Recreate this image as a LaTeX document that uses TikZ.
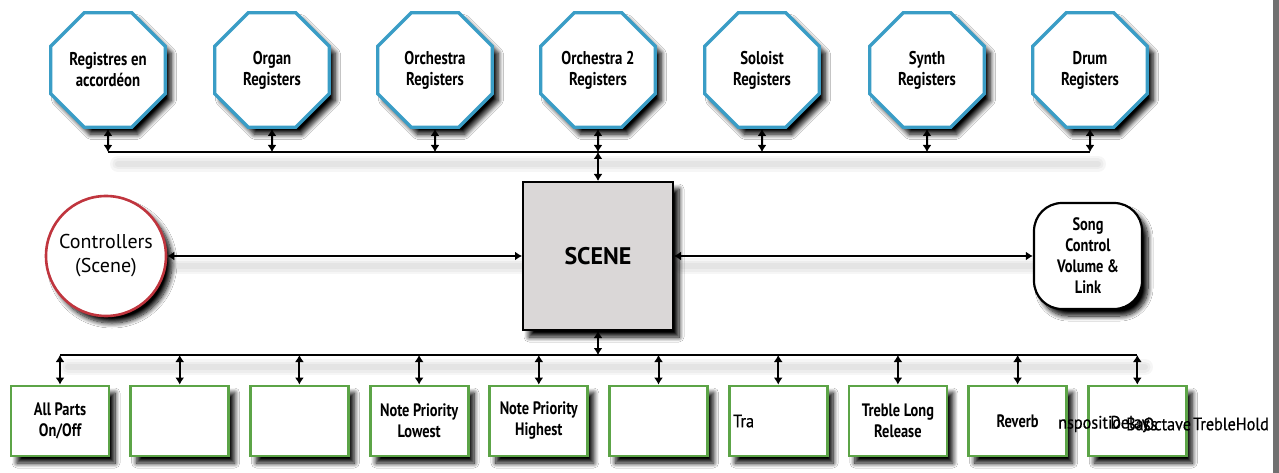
\documentclass[tikz,border=0pt]{standalone}
\usepackage{fontspec}
\setmainfont{PT Sans}
\newfontfamily\condf[FakeStretch=0.8]{PT Sans}
\newfontfamily\condr[FakeStretch=0.9,FakeBold=0.6]{PT Sans}
\usetikzlibrary{shapes.geometric,shadows,shadows.blur,arrows.meta}
\definecolor{cyanb}{HTML}{3A9DC6}
\definecolor{greenb}{HTML}{5CA447}
\definecolor{redb}{HTML}{C0353E}
\definecolor{scenefill}{HTML}{DAD7D7}
\definecolor{barg}{HTML}{707070}
\tikzset{
  x=1pt, y=-1pt,
  myshadow/.style={blur shadow={shadow xshift=6pt, shadow yshift=-7pt, shadow blur steps=10, shadow blur radius=5pt, shadow opacity=100}},
  oct/.style={regular polygon, regular polygon sides=8, minimum size=124pt, inner sep=0pt,
    draw=cyanb, line width=3.4pt, fill=white, myshadow, align=center,
    font=\condf\bfseries\fontsize{18.5}{21}\selectfont},
  gbox/.style={rectangle, minimum width=98pt, minimum height=70pt, inner sep=2pt,
    draw=greenb, line width=2.8pt, fill=white, myshadow, align=center,
    font=\condf\bfseries\fontsize{18}{21}\selectfont},
  scenebox/.style={rectangle, minimum width=150pt, minimum height=148pt, draw=black,
    line width=2pt, fill=scenefill, myshadow, font=\bfseries\fontsize{24}{28}\selectfont},
  ctrlbox/.style={circle, minimum size=120pt, inner sep=0pt, draw=redb, line width=2.6pt,
    fill=white, myshadow, align=center, font=\fontsize{20}{24}\selectfont},
  songbox/.style={rectangle, rounded corners=28pt, minimum width=108pt, minimum height=106pt,
    draw=black, line width=2.2pt, fill=white, myshadow, align=center,
    font=\condf\bfseries\fontsize{18}{21}\selectfont},
  bus/.style={line width=2.6pt, black},
  busshadow/.style={line width=#1, black, opacity=0.035, line cap=round},
  arr/.style={{Latex[length=7pt,width=9pt]}-{Latex[length=7pt,width=9pt]}, line width=2pt},
  garb/.style={inner sep=0pt, font=\condr\fontsize{18}{21}\selectfont},
}
\begin{document}
\begin{tikzpicture}
\useasboundingbox (0,0) rectangle (1279,473);
\fill[white] (0,0) rectangle (1279,473);
\fill[barg] (1273,0) rectangle (1279,473);

% bus shadows (soft)
\foreach \w in {16pt,11pt,6pt}{
  \draw[busshadow=\w] (118,164) -- (1098,164);
  \draw[busshadow=\w] (68,367) -- (1145,367);
  \draw[busshadow=\w] (175,266) -- (525,266);
  \draw[busshadow=\w] (682,266) -- (1036,266);
}

% top octagons
\node[oct] (o1) at (108,70) {Registres en\\accordéon};
\node[oct] (o2) at (272,70) {Organ\\Registers};
\node[oct] (o3) at (435,70) {Orchestra\\Registers};
\node[oct] (o4) at (598,70) {Orchestra 2\\Registers};
\node[oct] (o5) at (762,70) {Soloist\\Registers};
\node[oct] (o6) at (927,70) {Synth\\Registers};
\node[oct] (o7) at (1090,70) {Drum\\Registers};

% centre row
\node[scenebox] (scene) at (598,256) {SCENE};
\node[ctrlbox] (ctrl) at (106,256) {Controllers\\(Scene)};
\node[songbox] (song) at (1088,256) {Song\\Control\\Volume \&\\Link};

% bottom boxes
\node[gbox] (b1) at (60,421) {All Parts\\On/Off};
\node[gbox] (b2) at (179.7,421) {};
\node[gbox] (b3) at (299.4,421) {};
\node[gbox] (b4) at (419.1,421) {Note Priority\\Lowest};
\node[gbox] (b5) at (538.8,421) {Note Priority\\Highest};
\node[gbox] (b6) at (658.5,421) {};
\node[gbox] (b7) at (778.2,421) {};
\node[gbox] (b8) at (897.9,421) {Treble Long\\Release};
\node[gbox] (b9) at (1017.6,421) {Reverb};
\node[gbox] (b10) at (1137.3,421) {};

\node[garb, anchor=west] (tra) at (733,421) {Tra};
\node[garb, anchor=west] (g1) at (1058,424) {nspositio};
\node[garb, anchor=west] (g2) at (1110,424) {Delay};
\node[garb, anchor=west] (g3) at (1126,424) {Bass};
\node[garb, anchor=west] (g4) at (1143,424) {Octave};
\node[garb, anchor=east] (g5) at (1269,424) {TrebleHold};

% top bus
\foreach \i/\x in {1/108,2/272,3/435,4/598,5/762,6/927,7/1090}{
  \coordinate (t\i) at (\x,152);
}
\draw[bus] (t1) -- (t7);
\foreach \i in {1,...,7}{
  \draw[arr] (o\i.south) -- (t\i);
}
\draw[arr] (t4) -- (scene.north);

% bottom bus
\coordinate (bs) at (598,355);
\foreach \i/\x in {1/60,2/179.7,3/299.4,4/419.1,5/538.8,6/658.5,7/778.2,8/897.9,9/1017.6,10/1137.3}{
  \coordinate (c\i) at (\x,355);
}
\draw[bus] (c1) -- (c10);
\draw[arr] (scene.south) -- (bs);
\foreach \i in {1,...,10}{
  \draw[arr] (c\i) -- (b\i.north);
}

% horizontal links
\draw[arr] (ctrl.east) -- (scene.west);
\draw[arr] (scene.east) -- (song.west);
\end{tikzpicture}
\end{document}
